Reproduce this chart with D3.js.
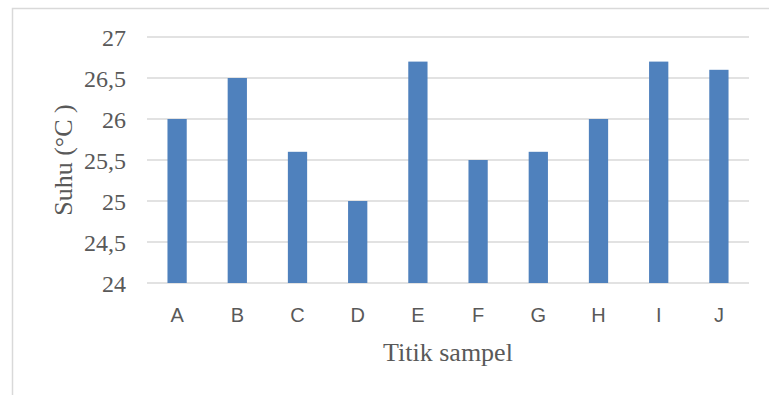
<!DOCTYPE html>
<html>
<head>
<meta charset="utf-8">
<script src="https://cdn.jsdelivr.net/npm/d3@7"></script>
<style>
  html, body { margin: 0; padding: 0; background: #fff; }
  svg { display: block; }
</style>
</head>
<body>
<svg id="chart" width="769" height="395"></svg>
<script>
const categories = ["A", "B", "C", "D", "E", "F", "G", "H", "I", "J"];
const values = [26, 26.5, 25.6, 25, 26.7, 25.5, 25.6, 26, 26.7, 26.6];
const yTicks = [24, 24.5, 25, 25.5, 26, 26.5, 27];
const xTitle = "Titik sampel";
const yTitle = "Suhu (°C )";

const svg = d3.select("#chart");
const W = 769, H = 395;
const plot = { left: 147, right: 749, top: 37, bottom: 283 };

// outer frame
svg.append("rect")
  .attr("x", 12.5).attr("y", 8.5)
  .attr("width", W + 20).attr("height", H + 20)
  .attr("fill", "#fff").attr("stroke", "#d9d9d9").attr("stroke-width", 1.5);

const x = d3.scaleBand()
  .domain(categories)
  .range([plot.left, plot.right])
  .paddingInner(0.68)
  .paddingOuter(0.34);

const y = d3.scaleLinear()
  .domain([24, 27])
  .range([plot.bottom, plot.top]);

// gridlines
svg.append("g")
  .selectAll("line")
  .data(yTicks)
  .join("line")
  .attr("x1", plot.left).attr("x2", plot.right)
  .attr("y1", d => y(d)).attr("y2", d => y(d))
  .attr("stroke", "#d9d9d9").attr("stroke-width", 1.5);

// y axis labels
const fmt = d => String(d).replace(".", ",");
const yAxis = d3.axisLeft(y).tickValues(yTicks).tickFormat(fmt).tickSize(0).tickPadding(0);
const gy = svg.append("g").attr("transform", "translate(126,0)").call(yAxis);
gy.select(".domain").remove();
gy.selectAll("text")
  .attr("font-family", "'Liberation Serif', 'Times New Roman', serif")
  .attr("font-size", 24)
  .attr("fill", "#595959")
  .attr("dy", "0.34em");

// bars
svg.append("g")
  .selectAll("rect")
  .data(values)
  .join("rect")
  .attr("x", (d, i) => x(categories[i]))
  .attr("width", x.bandwidth())
  .attr("y", d => y(d))
  .attr("height", d => y(24) - y(d))
  .attr("fill", "#4f81bd");

// x axis labels
const xAxis = d3.axisBottom(x).tickSize(0).tickPadding(0);
const gx = svg.append("g").attr("transform", `translate(0,${plot.bottom})`).call(xAxis);
gx.select(".domain").remove();
gx.selectAll("text")
  .attr("font-family", "'Liberation Sans', Arial, sans-serif")
  .attr("font-size", 20)
  .attr("fill", "#595959")
  .attr("y", 39)
  .attr("dy", 0);

// axis titles
svg.append("text")
  .attr("x", (plot.left + plot.right) / 2)
  .attr("y", 361)
  .attr("text-anchor", "middle")
  .attr("font-family", "'Liberation Serif', 'Times New Roman', serif")
  .attr("font-size", 26)
  .attr("fill", "#595959")
  .text(xTitle);

svg.append("text")
  .attr("transform", "translate(72,160) rotate(-90)")
  .attr("text-anchor", "middle")
  .attr("font-family", "'Liberation Serif', 'Times New Roman', serif")
  .attr("font-size", 26)
  .attr("fill", "#595959")
  .text(yTitle);
</script>
</body>
</html>
